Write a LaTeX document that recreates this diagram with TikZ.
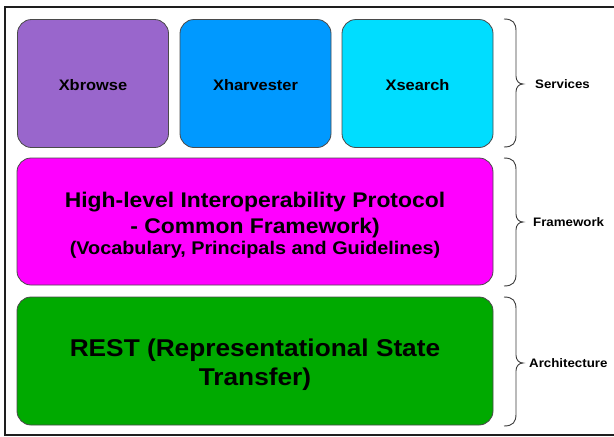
\documentclass[tikz,border=0pt]{standalone}
\usepackage{fontspec}
\setmainfont{Liberation Sans}
\newfontfamily\wideb[FakeStretch=1.08]{Liberation Sans}
\definecolor{boxline}{HTML}{4A4A4A}
\definecolor{braceline}{HTML}{3C3C3C}
\definecolor{framecol}{HTML}{1E1E1E}
\definecolor{cbrowse}{HTML}{9966CC}
\definecolor{charvest}{HTML}{0099FF}
\definecolor{csearch}{HTML}{00DDFF}
\definecolor{cframe}{HTML}{FF00FF}
\definecolor{crest}{HTML}{00AA00}
\begin{document}
\begin{tikzpicture}[x=1pt,y=-1pt,
  box/.style={draw=boxline, line width=0.8pt, rounded corners=14pt, inner sep=0pt, text=black, align=center},
  svc/.style={box, minimum width=151pt, minimum height=128pt, text height=13pt, text depth=0pt, font=\wideb\bfseries\fontsize{15.2}{18}\selectfont},
  wide/.style={box, minimum width=476pt, minimum height=127pt},
  boxtext/.style={anchor=base, inner sep=0pt, align=center, text=black},
  bracestyle/.style={draw=braceline, line width=0.9pt},
  lbl/.style={anchor=west, font=\wideb\bfseries\fontsize{12.3}{14}\selectfont, inner sep=0pt}]
\useasboundingbox (0,0) rectangle (614,437);
\fill[white] (0,0) rectangle (614,437);
\draw[line width=1.8pt, framecol] (616,7) -- (5,7) -- (5,435) -- (616,435);

\node[svc, fill=cbrowse] (xbrowse) at (93,83.5) {Xbrowse};
\node[svc, fill=charvest] (xharvester) at (255.5,83.5) {Xharvester};
\node[svc, fill=csearch] (xsearch) at (417.5,83.5) {Xsearch};

\node[wide, fill=cframe] (framework) at (255,221.5) {};
\node[boxtext, font=\wideb\bfseries\fontsize{21.2}{26}\selectfont] (frameworktext) at (255,254.3)
  {High-level Interoperability Protocol\\
   - Common Framework)\\[-5pt]
   \fontsize{18.35}{22}\selectfont (Vocabulary, Principals and Guidelines)};

\node[wide, fill=crest, minimum height=128pt] (rest) at (255,361) {};
\node[boxtext, font=\wideb\bfseries\fontsize{24.3}{28.3}\selectfont] (resttext) at (255,385)
  {REST (Representational State\\ Transfer)};

% braces
\draw[bracestyle] (504,19) .. controls (513,19) and (516,23) .. (516,31) -- (516,76)
  .. controls (516,81) and (519,84) .. (523,84)
  .. controls (519,84) and (516,87) .. (516,92) -- (516,135)
  .. controls (516,143) and (513,147) .. (504,147);
\draw[bracestyle] (504,158) .. controls (513,158) and (516,162) .. (516,170) -- (516,214)
  .. controls (516,219) and (519,222) .. (523,222)
  .. controls (519,222) and (516,225) .. (516,230) -- (516,274)
  .. controls (516,282) and (513,286) .. (504,286);
\draw[bracestyle] (504,297) .. controls (513,297) and (516,301) .. (516,309) -- (516,355)
  .. controls (516,360) and (519,363) .. (523,363)
  .. controls (519,363) and (516,366) .. (516,371) -- (516,414)
  .. controls (516,422) and (513,426) .. (504,426);

\node[lbl] (services) at (535,84.5) {Services};
\node[lbl] (frameworklbl) at (533,222.5) {Framework};
\node[lbl] (architecture) at (529,363.5) {Architecture};
\end{tikzpicture}
\end{document}
